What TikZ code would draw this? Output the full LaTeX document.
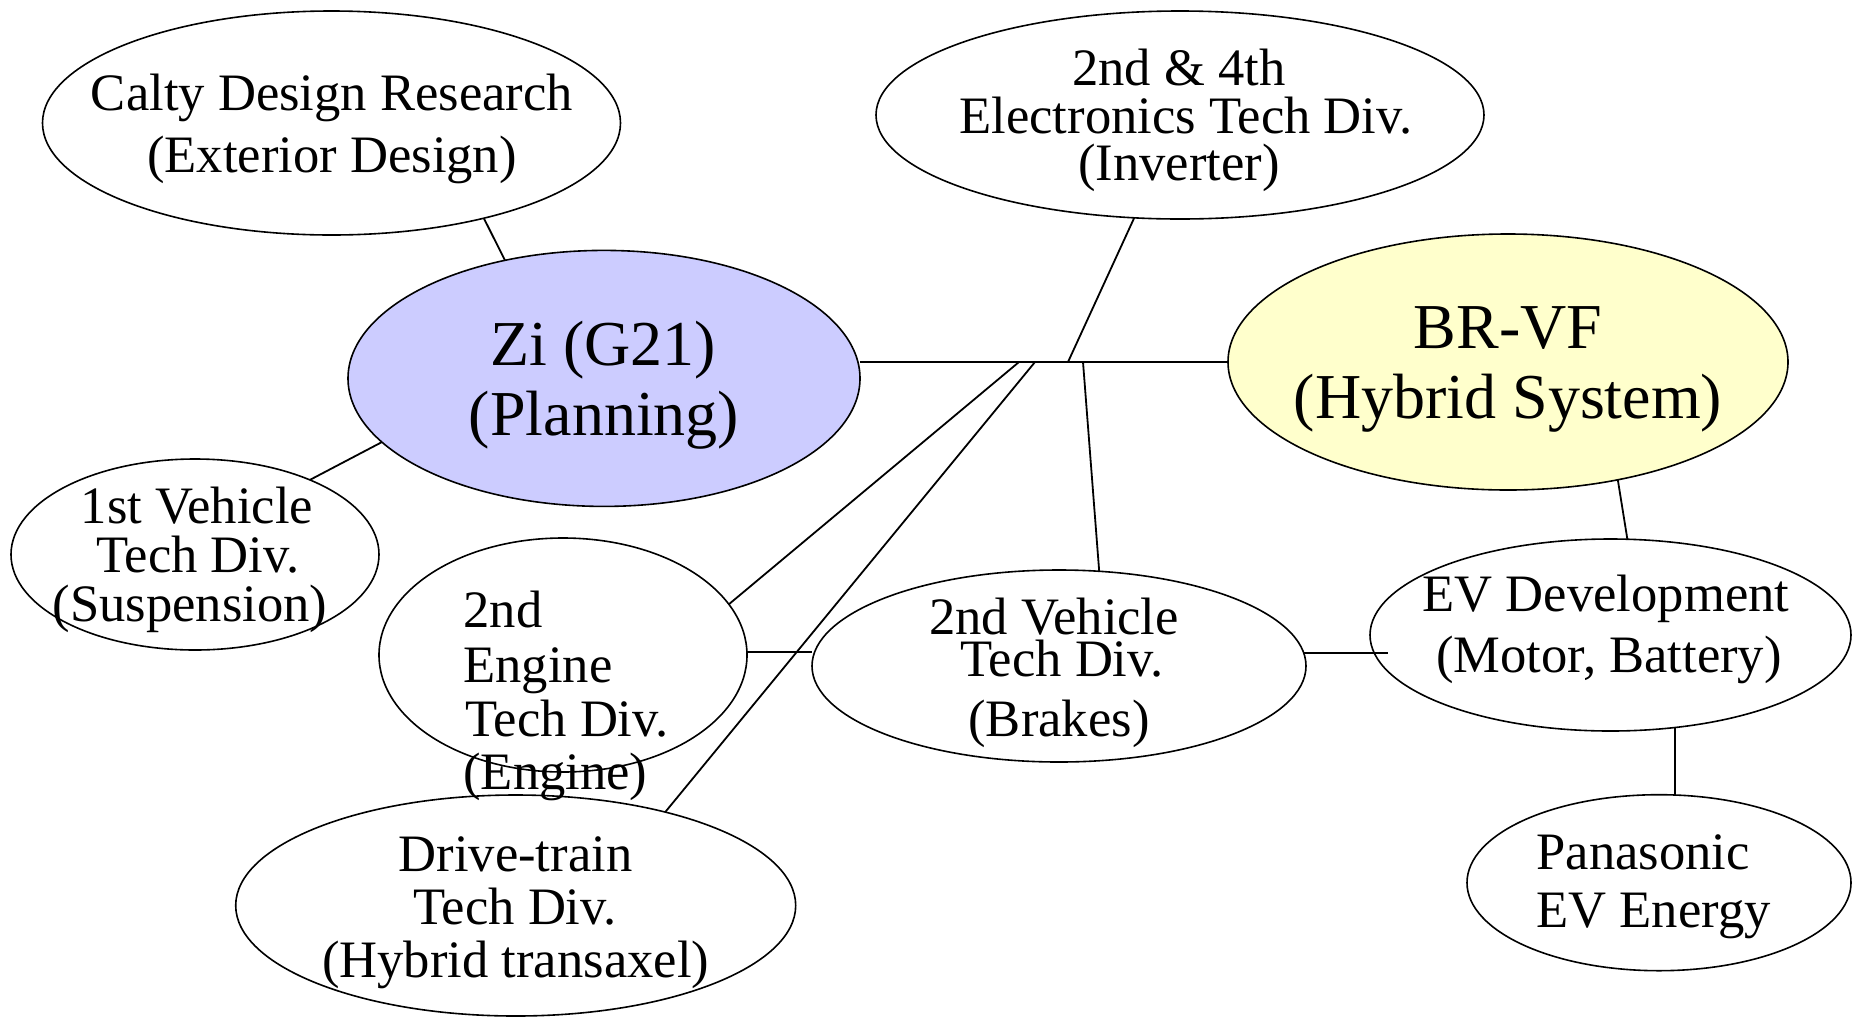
\documentclass[tikz,border=0pt]{standalone}
\usepackage{fontspec}
\setmainfont{Liberation Serif}
\usetikzlibrary{shapes.geometric}
\definecolor{zifill}{HTML}{CCCCFF}
\definecolor{brfill}{HTML}{FFFFCC}
\begin{document}
\begin{tikzpicture}[x=0.5pt,y=-0.5pt,
  ell/.style={draw, ellipse, line width=0.8pt, inner sep=0pt, outer sep=0pt},
  conn/.style={line width=0.9pt},
  sm/.style={inner sep=0pt, anchor=base, font=\fontsize{26.3pt}{30pt}\selectfont},
  smleft/.style={sm, anchor=base west},
  big/.style={inner sep=0pt, anchor=base, font=\fontsize{32pt}{36pt}\selectfont}]
\useasboundingbox (0,0) rectangle (1858,1018);

% ellipses
\node[ell, minimum width=289pt, minimum height=112pt] (calty) at (331.5,123) {};
\node[ell, fill=zifill, minimum width=256pt, minimum height=128pt] (zi) at (604,378.4) {};
\node[ell, minimum width=304pt, minimum height=104pt] (elec) at (1180,115) {};
\node[ell, fill=brfill, minimum width=280pt, minimum height=128pt] (brvf) at (1508,362) {};
\node[ell, minimum width=184pt, minimum height=95.5pt] (v1) at (195,554.5) {};
\node[ell, minimum width=184pt, minimum height=117pt] (eng) at (563,655) {};
\node[ell, minimum width=280pt, minimum height=110.5pt] (drive) at (515.7,905.5) {};
\node[ell, minimum width=247pt, minimum height=96pt] (veh) at (1059,666) {};
\node[ell, minimum width=240.5pt, minimum height=96pt] (ev) at (1610.5,635) {};
\node[ell, minimum width=192pt, minimum height=88pt] (pan) at (1659,882.7) {};

% junctions on the main line
\coordinate (j1) at (1019,362);
\coordinate (j2) at (1035,362);
\coordinate (j3) at (1068,362);
\coordinate (j4) at (1083,362);
\coordinate (evin) at ([xshift=9pt]ev.west);

% connectors
\draw[conn] (zi.east |- brvf.west) -- (brvf.west);
\draw[conn] (elec.-114.8) -- (j3);
\draw[conn] (eng.17) -- (j1);
\draw[conn] (drive.32) -- (j2);
\draw[conn] (veh.67) -- (j4);
\draw[conn] (calty.-32) -- (zi.130);
\draw[conn] (v1.33) -- (zi.196);
\draw[conn] (eng.1.5) -- (eng.1.5 -| veh.west);
\draw[conn] (veh.3.7) -- (veh.3.7 -| evin);
\draw[conn] (brvf.-47) -- (ev.80);
\draw[conn] (ev.-55) -- (ev.-55 |- pan.north);

% texts
\node[sm] (tcalty1) at (332,110) {Calty Design Research};
\node[sm] (tcalty2) at (332,172) {(Exterior Design)};
\node[big] (tzi1) at (603,365) {Zi (G21)};
\node[big] (tzi2) at (604,435) {(Planning)};
\node[sm] (tel1) at (1179,85) {2nd \& 4th};
\node[sm] (tel2) at (1186,133) {Electronics Tech Div.};
\node[sm] (tel3) at (1179,180) {(Inverter)};
\node[big] (tbr1) at (1508,348) {BR-VF};
\node[big] (tbr2) at (1508,418) {(Hybrid System)};
\node[sm] (tv11) at (197,523) {1st Vehicle};
\node[sm] (tv12) at (198,572) {Tech Div.};
\node[sm] (tv13) at (190,621) {(Suspension)};
\node[smleft] (teng1) at (463,627) {2nd};
\node[smleft] (teng2) at (463,682) {Engine};
\node[smleft] (teng3) at (465,736) {Tech Div.};
\node[smleft] (teng4) at (463,789) {(Engine)};
\node[sm] (tdr1) at (515.5,871) {Drive-train};
\node[sm] (tdr2) at (515,924) {Tech Div.};
\node[sm] (tdr3) at (515.6,977) {(Hybrid transaxel)};
\node[sm] (tveh1) at (1054,634) {2nd Vehicle};
\node[sm] (tveh2) at (1062,676) {Tech Div.};
\node[sm] (tveh3) at (1059,736) {(Brakes)};
\node[sm] (tev1) at (1606,611) {EV Development};
\node[sm] (tev2) at (1609,672) {(Motor, Battery)};
\node[smleft] (tpan1) at (1536,869) {Panasonic};
\node[smleft] (tpan2) at (1536,927) {EV Energy};
\end{tikzpicture}
\end{document}
